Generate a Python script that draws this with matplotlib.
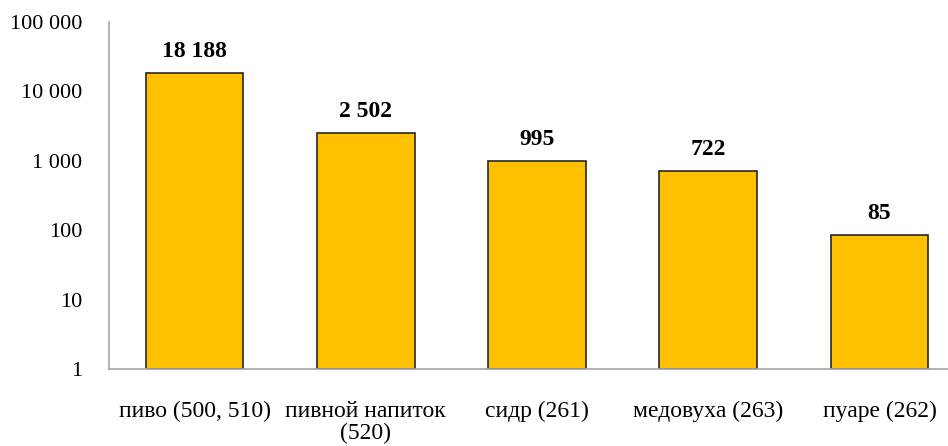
import matplotlib.pyplot as plt
from matplotlib.ticker import FuncFormatter, FixedLocator

# Data
categories = ['пиво (500, 510)', 'пивной напиток\n(520)', 'сидр (261)', 'медовуха (263)', 'пуаре (262)']
values = [18188, 2502, 995, 722, 85]
y_ticks = [1, 10, 100, 1000, 10000, 100000]

plt.rcParams['font.family'] = ['Liberation Serif', 'DejaVu Serif']

fig = plt.figure(figsize=(9.48, 4.46), dpi=100)
ax = fig.add_axes([109 / 948, 77 / 446, 839 / 948, 347 / 446])

x = list(range(len(categories)))
ax.bar(x, values, width=0.57, bottom=1, color='#FFC000', edgecolor='#262626', linewidth=1.2)

ax.set_yscale('log')
ax.set_ylim(1, 100000)
ax.set_xlim(-0.5, 4.4)
ax.yaxis.set_major_locator(FixedLocator(y_ticks))
ax.yaxis.set_minor_locator(FixedLocator([]))
ax.yaxis.set_major_formatter(FuncFormatter(lambda v, p: f'{int(round(v)):,}'.replace(',', ' ')))

ax.set_xticks(x)
ax.set_xticklabels(categories, fontsize=17, linespacing=1.05)
ax.tick_params(axis='x', length=0, pad=23)
ax.tick_params(axis='y', length=0, pad=19, labelsize=16)

for side in ['top', 'right']:
    ax.spines[side].set_visible(False)
for side in ['left', 'bottom']:
    ax.spines[side].set_color('#a6a6a6')
    ax.spines[side].set_linewidth(1.2)

for xi, v in zip(x, values):
    ax.annotate(f'{v:,}'.replace(',', ' '), (xi, v), xytext=(0, 8), textcoords='offset points',
                ha='center', va='bottom', fontsize=17, fontweight='bold')

plt.savefig('out.png', dpi=100)
